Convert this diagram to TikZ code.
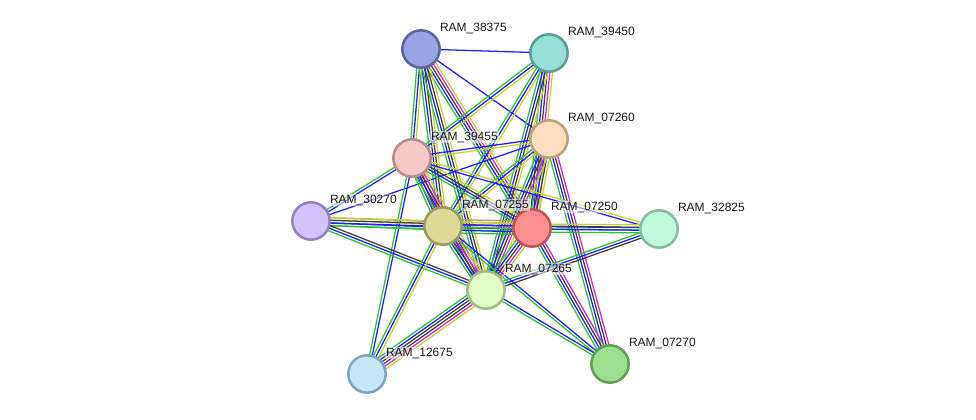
\documentclass[tikz,border=0pt]{standalone}
\usepackage{fontspec}
\setmainfont{Liberation Sans}
\usetikzlibrary{calc,backgrounds}
\definecolor{gr}{HTML}{2EC22E}
\definecolor{bl}{HTML}{2020FF}
\definecolor{yl}{HTML}{C4D22E}
\definecolor{bk}{HTML}{404040}
\definecolor{mg}{HTML}{E020E0}
\definecolor{ol}{HTML}{B89A5A}
\definecolor{fA}{HTML}{9BA4E0}\definecolor{dA}{HTML}{5A64A0}
\definecolor{fB}{HTML}{96E0D5}\definecolor{dB}{HTML}{5A9F96}
\definecolor{fC}{HTML}{FDDFBF}\definecolor{dC}{HTML}{BFA07E}
\definecolor{fD}{HTML}{F7C8C8}\definecolor{dD}{HTML}{B98A8A}
\definecolor{fE}{HTML}{D2C4FA}\definecolor{dE}{HTML}{9482C0}
\definecolor{fF}{HTML}{DCDA96}\definecolor{dF}{HTML}{9C9A5E}
\definecolor{fG}{HTML}{FF8E8E}\definecolor{dG}{HTML}{C05454}
\definecolor{fH}{HTML}{C0F8DA}\definecolor{dH}{HTML}{84BC9C}
\definecolor{fI}{HTML}{E1FCC5}\definecolor{dI}{HTML}{A6BC88}
\definecolor{fJ}{HTML}{C2E7FC}\definecolor{dJ}{HTML}{7FA6C0}
\definecolor{fK}{HTML}{9EDE92}\definecolor{dK}{HTML}{5EA050}
\tikzset{
  prot/.style={circle, minimum size=28pt, inner sep=0pt, line width=1.9pt},
  lbl/.style={anchor=west, font=\fontsize{9pt}{10pt}\selectfont, inner sep=0.6pt, text=black!90,
    fill=white, fill opacity=0.55, text opacity=1},
  eline/.style={line width=0.95pt}
}
\newcommand\edg[4]{%
  \foreach \c [count=\i] in {#4}{%
    \pgfmathsetmacro\o{(\i-(#3+1)/2)*2.0}%
    \draw[eline,\c] ($(#1)!\o pt!90:(#2)$) -- ($(#2)!\o pt!-90:(#1)$);
  }}
\begin{document}
\begin{tikzpicture}[x=0.75pt,y=-0.75pt]
\useasboundingbox (0,0) rectangle (976,419);
\node[prot, fill=fA, draw=dA] (A) at (421,49) {};
\node[prot, fill=fB, draw=dB] (B) at (549,53) {};
\node[prot, fill=fC, draw=dC] (C) at (549,139) {};
\node[prot, fill=fD, draw=dD] (D) at (412,158) {};
\node[prot, fill=fE, draw=dE] (E) at (311,221) {};
\node[prot, fill=fF, draw=dF] (F) at (443,226) {};
\node[prot, fill=fG, draw=dG] (G) at (532,228) {};
\node[prot, fill=fH, draw=dH] (H) at (659,229) {};
\node[prot, fill=fI, draw=dI] (I) at (486,290) {};
\node[prot, fill=fJ, draw=dJ] (J) at (367,374) {};
\node[prot, fill=fK, draw=dK] (K) at (610,364) {};
\begin{pgfonlayer}{background}
\edg{A}{B}{1}{bl}
\edg{A}{C}{1}{bl}
\edg{A}{D}{3}{gr,bl,yl}
\edg{A}{F}{4}{gr,bl,bk,yl}
\edg{A}{G}{5}{gr,bl,bk,mg,yl}
\edg{A}{I}{4}{gr,bl,bk,yl}
\edg{B}{D}{3}{gr,bl,yl}
\edg{B}{F}{3}{gr,bl,yl}
\edg{B}{G}{5}{gr,bl,bk,mg,yl}
\edg{B}{I}{4}{gr,bl,bk,yl}
\edg{C}{D}{2}{bl,yl}
\edg{C}{E}{1}{bl}
\edg{C}{F}{3}{gr,bl,yl}
\edg{C}{G}{4}{gr,bl,bk,yl}
\edg{C}{I}{5}{gr,bl,bk,mg,yl}
\edg{C}{K}{4}{gr,bl,bk,mg}
\edg{D}{E}{2}{gr,bl}
\edg{D}{F}{5}{gr,bl,bk,mg,yl}
\edg{D}{G}{4}{gr,bl,bk,yl}
\edg{D}{H}{2}{bl,yl}
\edg{D}{I}{5}{gr,bl,bk,mg,yl}
\edg{D}{J}{2}{gr,bl}
\edg{E}{F}{4}{gr,bl,yl,ol}
\edg{E}{G}{4}{gr,bl,bk,yl}
\edg{E}{I}{3}{gr,bl,bk}
\edg{F}{G}{6}{gr,bl,bk,mg,yl,ol}
\edg{F}{I}{5}{gr,bl,bk,mg,yl}
\edg{F}{J}{3}{gr,bl,yl}
\edg{F}{K}{2}{gr,bl}
\edg{F}{H}{2}{gr,bl}
\edg{G}{H}{4}{gr,bl,bk,yl}
\edg{G}{I}{5}{gr,bl,bk,mg,yl}
\edg{G}{K}{4}{gr,bl,bk,mg}
\edg{H}{I}{3}{gr,bl,bk}
\edg{I}{J}{6}{gr,bl,bk,bk,mg,yl}
\edg{I}{K}{2}{gr,bl}
\end{pgfonlayer}
\node[lbl] (lA) at ($(A)+(18,-21)$) {RAM\_38375};
\node[lbl] (lB) at ($(B)+(18,-21)$) {RAM\_39450};
\node[lbl] (lC) at ($(C)+(18,-21)$) {RAM\_07260};
\node[lbl] (lD) at ($(D)+(18,-21)$) {RAM\_39455};
\node[lbl] (lE) at ($(E)+(18,-21)$) {RAM\_30270};
\node[lbl] (lF) at ($(F)+(18,-21)$) {RAM\_07255};
\node[lbl] (lG) at ($(G)+(18,-21)$) {RAM\_07250};
\node[lbl] (lH) at ($(H)+(18,-21)$) {RAM\_32825};
\node[lbl] (lI) at ($(I)+(18,-21)$) {RAM\_07265};
\node[lbl] (lJ) at ($(J)+(18,-21)$) {RAM\_12675};
\node[lbl] (lK) at ($(K)+(18,-21)$) {RAM\_07270};
\end{tikzpicture}
\end{document}
